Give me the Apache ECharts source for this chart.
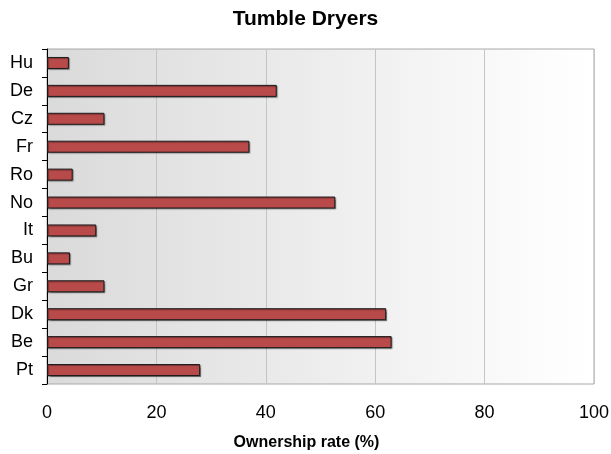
<!DOCTYPE html>
<html>
<head>
<meta charset="utf-8">
<script src="https://cdn.jsdelivr.net/npm/echarts@6/dist/echarts.min.js"></script>
<style>
  html, body { margin: 0; padding: 0; background: #fff; }
  #chart { width: 611px; height: 454px; }
</style>
</head>
<body>
<div id="chart"></div>
<script>
// Countries listed top to bottom
const countries = ['Hu', 'De', 'Cz', 'Fr', 'Ro', 'No', 'It', 'Bu', 'Gr', 'Dk', 'Be', 'Pt'];
// Share of households owning a tumble dryer (%)
const ownership = [4, 42, 10.5, 37, 4.7, 52.7, 9, 4.2, 10.5, 62, 63, 28];
const xTicks = [0, 20, 40, 60, 80, 100];

const chart = echarts.init(document.getElementById('chart'), null, { renderer: 'canvas' });
const font = '"Liberation Sans", Arial, sans-serif';

chart.setOption({
  animation: false,
  title: {
    text: 'Tumble Dryers',
    left: 'center',
    top: 4,
    textStyle: { fontFamily: font, fontSize: 21, fontWeight: 'bold', color: '#000' }
  },
  grid: {
    left: 47, right: 17, top: 49, bottom: 70,
    containLabel: false,
    outerBoundsMode: 'none',
    show: true,
    borderColor: '#a8a8a8',
    borderWidth: 1,
    backgroundColor: new echarts.graphic.LinearGradient(0, 0, 1, 0, [
      { offset: 0, color: '#dadada' },
      { offset: 0.9, color: '#fcfcfc' },
      { offset: 1, color: '#ffffff' }
    ])
  },
  xAxis: {
    type: 'value',
    min: xTicks[0],
    max: xTicks[xTicks.length - 1],
    interval: 20,
    name: 'Ownership rate (%)',
    nameLocation: 'middle',
    nameGap: 51,
    nameTextStyle: {
      fontFamily: font, fontSize: 16, fontWeight: 'bold', color: '#000',
      // centre the axis name on the page rather than on the plot
      padding: [0, 28, 0, 0]
    },
    axisLine: { show: false },
    axisTick: { show: false },
    axisLabel: { fontFamily: font, fontSize: 18, color: '#000', margin: 20 },
    splitLine: { show: true, lineStyle: { color: '#c4c4c4', width: 1 } }
  },
  yAxis: {
    type: 'category',
    data: countries,
    inverse: true,
    axisLine: { show: true, lineStyle: { color: '#000', width: 1 } },
    axisTick: { show: true, length: 5, lineStyle: { color: '#000' } },
    axisLabel: { fontFamily: font, fontSize: 18, color: '#000', margin: 14 },
    splitLine: { show: false }
  },
  series: [{
    type: 'bar',
    data: ownership,
    barCategoryGap: '57%',
    itemStyle: {
      color: '#b94a4a',
      borderColor: '#1a1a1a',
      borderWidth: 1,
      shadowColor: 'rgba(0,0,0,0.35)',
      shadowOffsetX: 1,
      shadowOffsetY: 1,
      shadowBlur: 1
    }
  }]
});
</script>
</body>
</html>
